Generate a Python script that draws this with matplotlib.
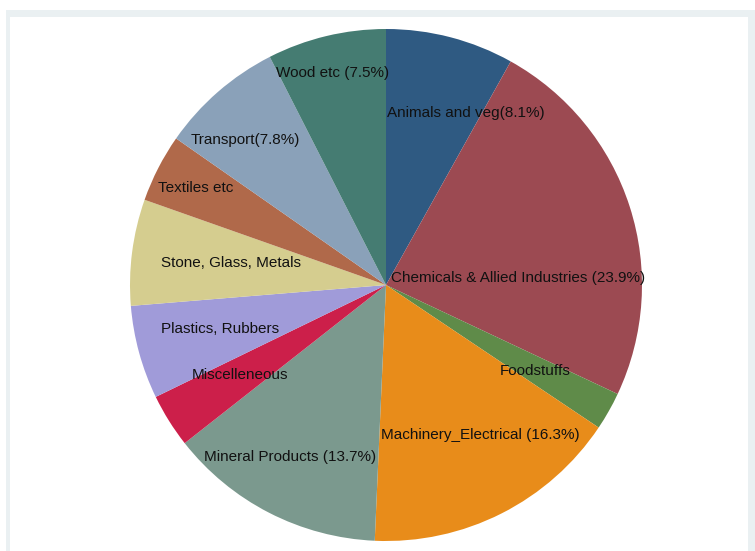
import matplotlib.pyplot as plt
from matplotlib.patches import Rectangle

# export shares by product group (%)
sectors = ['Animals and veg', 'Chemicals & Allied Industries', 'Foodstuffs',
           'Machinery_Electrical', 'Mineral Products', 'Miscelleneous',
           'Plastics, Rubbers', 'Stone, Glass, Metals', 'Textiles etc',
           'Transport', 'Wood etc']
shares = [8.1, 23.9, 2.4, 16.3, 13.7, 3.4, 5.9, 6.7, 4.3, 7.8, 7.5]
labels = ['Animals and veg(8.1%)', 'Chemicals & Allied Industries (23.9%)',
          'Foodstuffs', 'Machinery_Electrical (16.3%)',
          'Mineral Products (13.7%)', 'Miscelleneous', 'Plastics, Rubbers',
          'Stone, Glass, Metals', 'Textiles etc', 'Transport(7.8%)',
          'Wood etc (7.5%)']

colors = ['#2f5a82', '#9c4a52', '#5f8b49', '#e88c1a', '#7b998e', '#cc1f4a',
          '#a09bd9', '#d5cd8f', '#b0694a', '#8aa1b9', '#457c72']

# label centres in units of the pie radius
label_pos = [(0.31, 0.672), (0.516, 0.027), (0.582, -0.336), (0.367, -0.586),
             (-0.375, -0.672), (-0.570, -0.352), (-0.648, -0.172),
             (-0.605, 0.086), (-0.742, 0.379), (-0.551, 0.566), (-0.207, 0.828)]

W, H = 755, 551
cx, cy, R = 386, 285, 256

fig = plt.figure(figsize=(W / 100, H / 100), dpi=100)
fig.patch.set_facecolor('white')
fig.patches.append(Rectangle((6 / W, 0), 1, 1 - 10 / H, transform=fig.transFigure,
                             facecolor='#eaf0f2', edgecolor='none', zorder=-2))
fig.patches.append(Rectangle((10 / W, 0), 738 / W, 1 - 17 / H, transform=fig.transFigure,
                             facecolor='white', edgecolor='none', zorder=-1))

ax = fig.add_axes([0, 0, 1, 1])
ax.axis('off')

ax.pie(shares, colors=colors, startangle=90, counterclock=False, radius=1,
       wedgeprops=dict(linewidth=0, antialiased=True))
ax.set_xlim(-cx / R, (W - cx) / R)
ax.set_ylim(-(H - cy) / R, cy / R)
ax.set_aspect('auto')

for lab, (x, y) in zip(labels, label_pos):
    ax.text(x, y, lab, ha='center', va='center', fontsize=11,
            family='Liberation Sans', color='#111111')

plt.savefig('out.png', dpi=100)
